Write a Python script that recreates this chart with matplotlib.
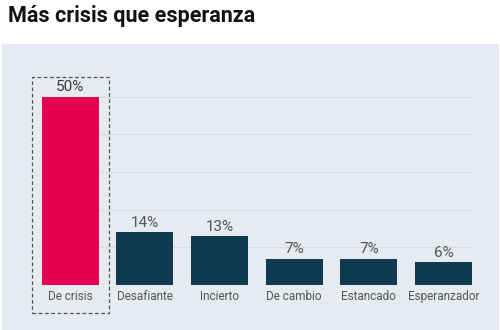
import matplotlib
matplotlib.use("Agg")
import matplotlib.pyplot as plt
from matplotlib.patches import Rectangle

# data
categories = ["De crisis", "Desafiante", "Incierto", "De cambio", "Estancado", "Esperanzador"]
values = [50, 14, 13, 7, 7, 6]
labels = ["50%", "14%", "13%", "7%", "7%", "6%"]
gridlines = [10, 20, 30, 40, 50]

PINK = "#e4004f"
DARK = "#0f3b50"
PANEL = "#e7eaf0"
GRID = "#d8dce3"

plt.rcParams["font.family"] = ["Roboto", "DejaVu Sans"]

W, H = 500, 330
fig = plt.figure(figsize=(W / 100, H / 100), dpi=100)
fig.patch.set_facecolor("white")

# grey panel behind the chart
fig.add_artist(Rectangle((2 / W, 0), 497 / W, (H - 44) / H, transform=fig.transFigure,
                         facecolor=PANEL, edgecolor="none", zorder=0))
fig.text(8 / W, 1 - 16 / H, "Más crisis que esperanza", fontsize=15.5, fontweight="bold",
         color="#111111", ha="left", va="center")

# axes placed in pixel terms: x 32..482, y 16.7..252.7 (from bottom)
ax = fig.add_axes([32 / W, 16.7 / H, 450 / W, 236 / H])
ax.set_facecolor("none")
ax.axis("off")
ax.set_xlim(-0.509, 5.515)
ax.set_ylim(-7.51, 55.15)

x = list(range(len(categories)))
bw = 0.763
ax.hlines(gridlines, -bw / 2, len(x) - 1 + bw / 2, colors=GRID, lw=0.9, zorder=1)
colors = [PINK] + [DARK] * (len(x) - 1)
ax.bar(x, values, width=bw, color=colors, zorder=2)

for i, (v, lab) in enumerate(zip(values, labels)):
    ax.text(i, v + 0.6, lab, ha="center", va="bottom", fontsize=11,
            color="#3a3a3a" if i == 0 else "#555555")
    ax.text(i, -3.1, categories[i], ha="center", va="center", fontsize=8.5,
            color="#555555")

# dashed highlight box around the first bar
ax.add_patch(Rectangle((-0.509, -7.51), 1.035, 62.66, fill=False, edgecolor="#555555",
                       lw=0.9, ls=(0, (3, 2)), clip_on=False, zorder=3))

fig.savefig("out.png", dpi=100, facecolor="white")
